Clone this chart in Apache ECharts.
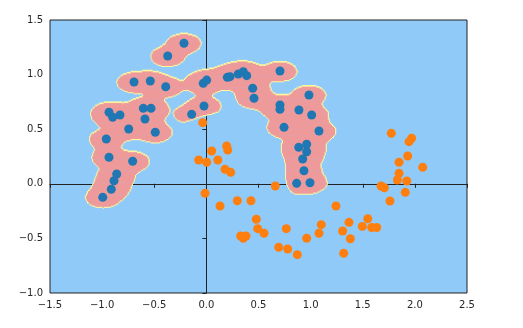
<!DOCTYPE html>
<html>
<head>
<meta charset="utf-8">
<script src="https://cdn.jsdelivr.net/npm/echarts@6/dist/echarts.min.js"></script>
<style>
  html, body { margin: 0; padding: 0; background: #fff; }
  #chart { width: 523px; height: 328px; }
</style>
</head>
<body>
<div id="chart"></div>
<script>
// class 0 (blue) points
const blueX = [-0.215, -0.371, -0.694, -0.538, -0.39, 0.003, -0.03, -0.023, -0.141, -0.934,
  -0.899, -0.829, -0.605, -0.531, -0.589, -0.745, -0.49, -0.96, -0.934, -0.707,
  -0.86, -0.886, -0.912, -0.994, 0.201, 0.227, 0.306, 0.354, 0.387, 0.706,
  0.444, 0.457, 0.706, 0.706, 0.984, 0.888, 1.01, 0.745, 1.08, 0.886,
  0.962, 0.962, 0.924, 0.936, 0.866, 0.994];
const blueY = [1.287, 1.17, 0.932, 0.941, 0.889, 0.95, 0.92, 0.712, 0.636, 0.655,
  0.609, 0.63, 0.691, 0.691, 0.593, 0.502, 0.472, 0.41, 0.243, 0.206,
  0.09, 0.028, -0.05, -0.124, 0.975, 0.981, 1.005, 1.027, 0.99, 1.033,
  0.875, 0.783, 0.722, 0.682, 0.813, 0.676, 0.63, 0.517, 0.483, 0.334,
  0.362, 0.294, 0.227, 0.12, 0.004, 0.01];

// class 1 (orange) points
const orangeX = [-0.035, 0.051, -0.074, 0.003, 0.11, -0.013, 0.195, 0.205, 0.179, 0.233,
  0.661, 0.297, 0.428, 0.131, 1.243, 0.479, 0.492, 0.553, 0.329, 0.38,
  0.354, 0.767, 0.694, 0.78, 0.872, 0.962, 1.08, 1.102, 1.307, 1.368,
  1.381, 1.317, 1.774, 1.944, 1.969, 1.931, 1.848, 2.075, 1.848, 1.832,
  1.922, 1.675, 1.707, 1.908, 1.761, 1.548, 1.496, 1.586, 1.634];
const orangeY = [0.56, 0.30, 0.218, 0.197, 0.218, -0.087, 0.346, 0.31, 0.133, 0.105,
  -0.02, -0.155, -0.155, -0.203, -0.203, -0.325, -0.411, -0.453, -0.478, -0.478,
  -0.499, -0.411, -0.582, -0.597, -0.649, -0.499, -0.453, -0.374, -0.432, -0.353,
  -0.503, -0.636, 0.462, 0.386, 0.417, 0.255, 0.197, 0.151, 0.096, 0.035,
  0.026, -0.02, -0.036, -0.078, -0.158, -0.32, -0.39, -0.40, -0.40];

const xTicks = [-1.5, -1.0, -0.5, 0.0, 0.5, 1.0, 1.5, 2.0, 2.5];
const yTicks = [-1.0, -0.5, 0.0, 0.5, 1.0, 1.5];

const bgBlue = "#90CAF9";
const pink = "#EF9A9A";
const yellow = "#FFF59D";

// rough rbf classifier on standardised features, used for the shaded regions
const sx = 0.87, sy = 0.5, gamma = 50, thresh = 0.16;
function score(x, y) {
  let s = 0;
  for (let i = 0; i < blueX.length; i++) {
    const dx = (x - blueX[i]) / sx, dy = (y - blueY[i]) / sy;
    s += Math.exp(-gamma * (dx * dx + dy * dy));
  }
  for (let i = 0; i < orangeX.length; i++) {
    const dx = (x - orangeX[i]) / sx, dy = (y - orangeY[i]) / sy;
    s -= Math.exp(-gamma * (dx * dx + dy * dy));
  }
  return s;
}

const step = 0.01;
const xMin = xTicks[0], xMax = xTicks[xTicks.length - 1];
const yMin = yTicks[0], yMax = yTicks[yTicks.length - 1];
const nx = Math.round((xMax - xMin) / step) + 1;
const ny = Math.round((yMax - yMin) / step) + 1;

let mask = [];
for (let j = 0; j < ny; j++) {
  let row = [];
  const y = yMin + j * step;
  for (let i = 0; i < nx; i++) {
    row.push(score(xMin + i * step, y) > thresh ? 1 : 0);
  }
  mask.push(row);
}
// edge cells get the yellow middle colour
function cellClass(i, j) {
  if (!mask[j][i]) return 0;
  const nb = [[1, 0], [-1, 0], [0, 1], [0, -1]];
  for (const [a, b] of nb) {
    const ii = i + a, jj = j + b;
    if (ii < 0 || jj < 0 || ii >= nx || jj >= ny) continue;
    if (!mask[jj][ii]) return 2;
  }
  return 1;
}
let regionRuns = [];
for (let j = 0; j < ny; j++) {
  let start = 0, cur = cellClass(0, j);
  for (let i = 1; i <= nx; i++) {
    const c = i < nx ? cellClass(i, j) : -1;
    if (c !== cur) {
      if (cur > 0) regionRuns.push([xMin + start * step, xMin + (i - 1) * step, yMin + j * step, cur]);
      start = i;
      cur = c;
    }
  }
}

const fmt = (v) => v.toFixed(1).replace("-", "\u2212");

const chart = echarts.init(document.getElementById("chart"));
const option = {
  animation: false,
  grid: {
    left: 50,
    right: 56,
    top: 20,
    bottom: 35,
    show: true,
    backgroundColor: bgBlue,
    borderColor: "#222",
    borderWidth: 1,
  },
  xAxis: {
    type: "value",
    min: xMin,
    max: xMax,
    interval: 0.5,
    splitLine: { show: false },
    axisLine: { lineStyle: { color: "#222" } },
    axisTick: { show: true, length: 4, inside: false, lineStyle: { color: "#222" } },
    axisLabel: {
      formatter: fmt,
      color: "#262626",
      fontFamily: "DejaVu Sans",
      fontSize: 10,
      margin: 7,
    },
  },
  yAxis: {
    type: "value",
    min: yMin,
    max: yMax,
    interval: 0.5,
    splitLine: { show: false },
    axisLine: { show: true, lineStyle: { color: "#222" } },
    axisTick: { show: true, length: 4, inside: false, lineStyle: { color: "#222" } },
    axisLabel: {
      formatter: fmt,
      color: "#262626",
      fontFamily: "DejaVu Sans",
      fontSize: 10,
      margin: 7,
    },
  },
  series: [
    {
      type: "custom",
      clip: true,
      silent: true,
      data: regionRuns,
      renderItem: function (params, api) {
        const p0 = api.coord([api.value(0) - step / 2, api.value(2) + step / 2]);
        const p1 = api.coord([api.value(1) + step / 2, api.value(2) - step / 2]);
        return {
          type: "rect",
          shape: { x: p0[0], y: p0[1], width: p1[0] - p0[0], height: p1[1] - p0[1] + 0.6 },
          style: { fill: api.value(3) === 1 ? pink : yellow },
        };
      },
      z: 1,
    },
    {
      type: "scatter",
      data: blueX.map((x, i) => [x, blueY[i]]),
      symbolSize: 9,
      itemStyle: { color: "#1f77b4", opacity: 1 },
      z: 3,
    },
    {
      type: "scatter",
      data: orangeX.map((x, i) => [x, orangeY[i]]),
      symbolSize: 9,
      itemStyle: { color: "#ff7f0e", opacity: 1 },
      z: 3,
    },
  ],
};
chart.setOption(option);
</script>
</body>
</html>
